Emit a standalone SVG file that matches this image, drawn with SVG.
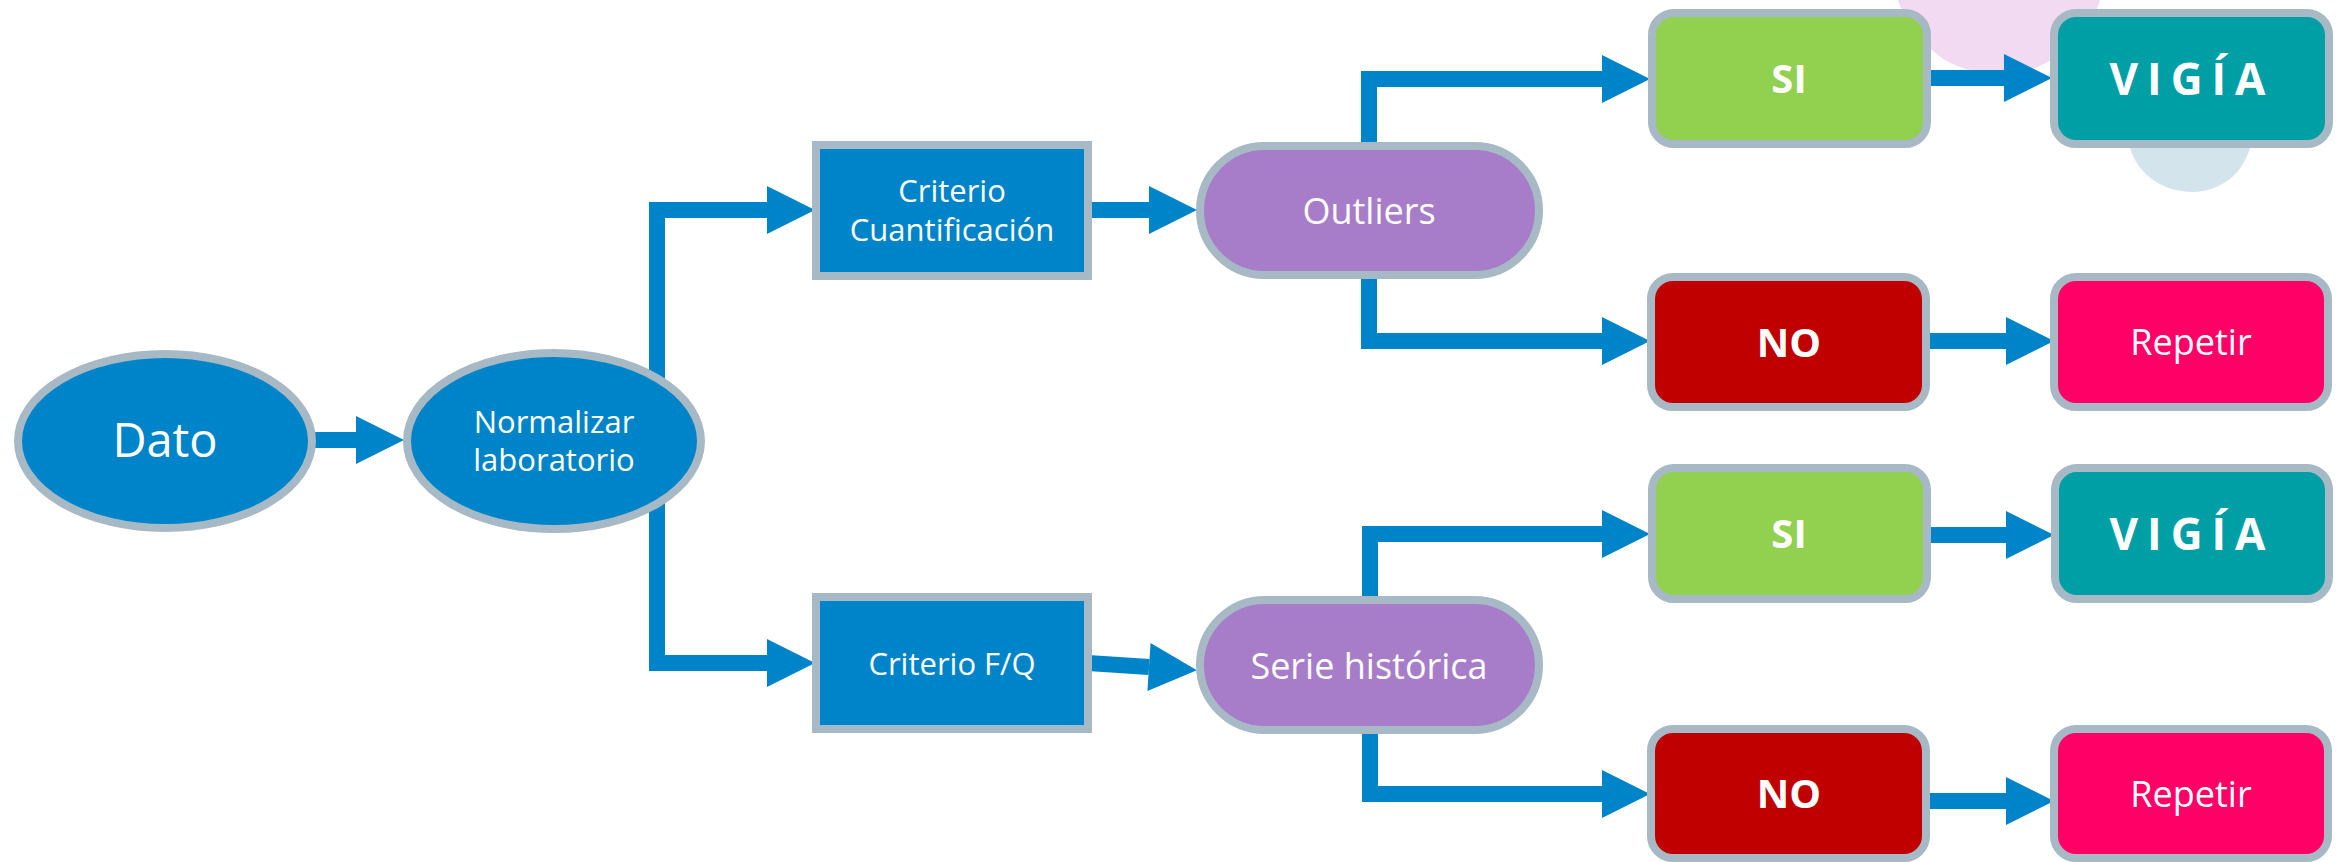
<svg xmlns="http://www.w3.org/2000/svg" width="2346" height="862" viewBox="0 0 2346 862">
<style>
.c{fill:none;stroke:#0084C9;stroke-width:16;stroke-linejoin:miter;stroke-linecap:butt;marker-end:url(#ah)}
.n{stroke:#A6B9C5;stroke-width:8}
.blue{fill:#0084C9}
.purple{fill:#A77CC8}
.green{fill:#92D050}
.teal{fill:#009EA5}
.red{fill:#C00000}
.pink{fill:#FF0066}
text{font-family:"Open Sans","Liberation Sans",sans-serif;fill:#FFFFFF;text-anchor:middle}
.r{font-size:31px}
.m{font-size:36px}
.b{font-size:40px;font-weight:700}
.v{font-size:44px;font-weight:700;letter-spacing:9px}
</style>
<defs>
<marker id="ah" markerUnits="userSpaceOnUse" markerWidth="48" markerHeight="48" refX="0" refY="24" orient="auto" overflow="visible">
<path d="M0,0 L48,24 L0,48 Z" fill="#0084C9"/>
</marker>
</defs>
<g id="background">
<path d="M1898,0 L2100,0 C2092,28 2062,62 2025,71 C1995,77 1958,72 1938,55 C1918,40 1904,20 1898,0 Z" fill="#F1DAF2"/>
<path d="M2128,140 C2134,172 2160,192 2194,192 C2226,190 2246,170 2252,140 Z" fill="#D3E4EC"/>
</g>
<g id="connectors">
<path class="c" d="M300,440 H356"/>
<path class="c" d="M657,395 V210 H767"/>
<path class="c" d="M657,490 V663 H767"/>
<path class="c" d="M1088,210 H1149"/>
<path class="c" d="M1088,663 L1149,667"/>
<path class="c" d="M1369,155 V79 H1602"/>
<path class="c" d="M1369,265 V341 H1602"/>
<path class="c" d="M1370,610 V534 H1602"/>
<path class="c" d="M1370,720 V794 H1602"/>
<path class="c" d="M1927,78 H2004"/>
<path class="c" d="M1927,341 H2006"/>
<path class="c" d="M1927,535 H2006"/>
<path class="c" d="M1927,801 H2006"/>
</g>
<g id="dato">
<ellipse class="n blue" cx="165" cy="441" rx="147" ry="87"/>
<text x="165" y="457" style="font-size:47px">Dato</text>
</g>
<g id="normalizar">
<ellipse class="n blue" cx="554" cy="441" rx="147" ry="88"/>
<text class="r" x="554" y="433">Normalizar</text>
<text class="r" x="554" y="471">laboratorio</text>
</g>
<g id="criterio-cuantificacion">
<rect class="n blue" x="816" y="145" width="272" height="131"/>
<text class="r" x="952" y="202">Criterio</text>
<text class="r" x="952" y="241">Cuantificación</text>
</g>
<g id="criterio-fq">
<rect class="n blue" x="816" y="597" width="272" height="132"/>
<text class="r" x="952" y="675">Criterio F/Q</text>
</g>
<g id="outliers">
<rect class="n purple" x="1200" y="146" width="339" height="129" rx="64.5"/>
<text class="m" x="1369" y="224">Outliers</text>
</g>
<g id="serie-historica">
<rect class="n purple" x="1200" y="600" width="339" height="130" rx="65"/>
<text class="m" x="1369" y="679">Serie histórica</text>
</g>
<g id="si-1">
<rect class="n green" x="1652" y="13" width="275" height="131" rx="22"/>
<text class="b" x="1789" y="93">SI</text>
</g>
<g id="vigia-1">
<rect class="n teal" x="2054" y="13" width="275" height="131" rx="22"/>
<text class="v" x="2192" y="95">VIGÍA</text>
</g>
<g id="no-1">
<rect class="n red" x="1651" y="277" width="275" height="130" rx="22"/>
<text class="b" x="1789" y="357">NO</text>
</g>
<g id="repetir-1">
<rect class="n pink" x="2054" y="277" width="274" height="130" rx="22"/>
<text class="m" x="2191" y="355">Repetir</text>
</g>
<g id="si-2">
<rect class="n green" x="1652" y="468" width="275" height="131" rx="22"/>
<text class="b" x="1789" y="548">SI</text>
</g>
<g id="vigia-2">
<rect class="n teal" x="2055" y="468" width="274" height="131" rx="22"/>
<text class="v" x="2192" y="550">VIGÍA</text>
</g>
<g id="no-2">
<rect class="n red" x="1651" y="729" width="275" height="129" rx="22"/>
<text class="b" x="1789" y="808">NO</text>
</g>
<g id="repetir-2">
<rect class="n pink" x="2054" y="729" width="274" height="129" rx="22"/>
<text class="m" x="2191" y="807">Repetir</text>
</g>
</svg>
